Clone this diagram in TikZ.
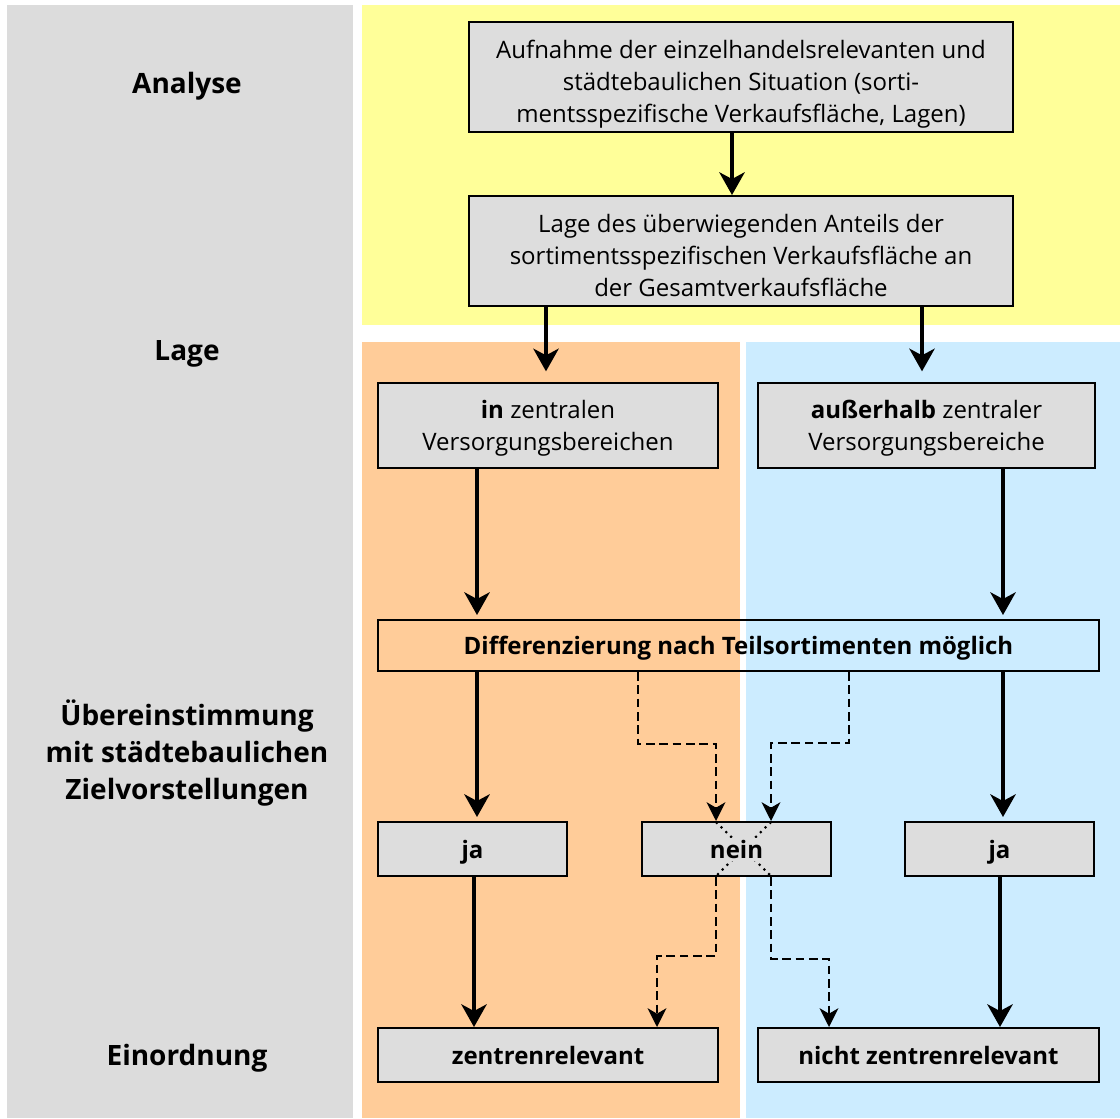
\documentclass[tikz,border=0pt]{standalone}
\usepackage{fontspec}
\setmainfont{Open Sans}
\usepackage{xcolor}
\usepackage{tikz}
\usetikzlibrary{arrows.meta,shadows}
\definecolor{panelgray}{HTML}{DCDCDC}
\definecolor{paleyellow}{HTML}{FFFF99}
\definecolor{paleorange}{HTML}{FFCC99}
\definecolor{paleblue}{HTML}{CCECFF}
\definecolor{boxgray}{HTML}{DDDDDD}
\setlength{\fboxsep}{1.5pt}

\begin{document}
\begin{tikzpicture}[x=0.75pt,y=-0.75pt,>={Stealth[length=17pt,width=19pt,inset=5pt]},
  flow/.style={->,line width=2.8pt},
  alt/.style={-{Stealth[length=14pt,width=14pt,inset=4pt]},line width=2pt,dash pattern=on 6.5pt off 3.5pt},
  cross/.style={line width=1.6pt,dash pattern=on 1.6pt off 3.4pt},
  stepbox/.style={draw,line width=1.5pt,inner sep=2pt,align=center,font=\fontsize{18}{24}\selectfont,
    text height=18pt,text depth=4pt},
  twolines/.style={text height=42pt},
  threelines/.style={text height=72pt},
  greybox/.style={stepbox,fill=boxgray,drop shadow={shadow xshift=1pt,shadow yshift=-1pt,fill=black,opacity=0.8}},
  boldbox/.style={greybox,font=\fontsize{18}{24}\selectfont\bfseries},
  phase/.style={align=center,font=\fontsize{21}{28}\selectfont\bfseries}]
  \useasboundingbox (0,0) rectangle (1120,1118);
  \fill[panelgray] (7,5) rectangle (353,1118);
  \fill[paleyellow] (362,5) rectangle (1120,325);
  \fill[paleorange] (362,342) rectangle (740,1118);
  \fill[paleblue] (746,342) rectangle (1120,1118);

  \node[phase] (analyse) at (187,86) {Analyse};
  \node[phase] (lage) at (187,354) {Lage};
  \node[phase] (match) at (187,753) {Übereinstimmung\\mit städtebaulichen\\Zielvorstellungen};
  \node[phase] (order) at (187,1058) {Einordnung};

  \node[greybox,threelines,minimum width=408pt,minimum height=82.5pt] (survey) at (741,77)
    {Aufnahme der einzelhandelsrelevanten und\\städtebaulichen Situation (sorti-\\mentsspezifische Verkaufsfläche, Lagen)};
  \node[greybox,threelines,minimum width=408pt,minimum height=82.5pt] (share) at (741,251)
    {Lage des überwiegenden Anteils der\\sortimentsspezifischen Verkaufsfläche an\\der Gesamtverkaufsfläche};
  \node[greybox,twolines,minimum width=255pt,minimum height=63.75pt] (inside) at (548,425.5)
    {\textbf{in} zentralen\\Versorgungsbereichen};
  \node[greybox,twolines,minimum width=252.75pt,minimum height=63.75pt] (outside) at (926.5,425.5)
    {\textbf{außerhalb} zentraler\\Versorgungsbereiche};
  \node[stepbox,font=\fontsize{18}{24}\selectfont\bfseries,minimum width=540.75pt,minimum height=38.25pt] (split) at (738.5,645.5)
    {Differenzierung nach Teilsortimenten möglich};
  \node[boldbox,minimum width=141.75pt,minimum height=40.5pt] (yesin) at (472.5,849) {ja};
  \node[boldbox,minimum width=141.75pt,minimum height=40.5pt,
    path picture={
      \draw[cross] ([xshift=-15.4pt]path picture bounding box.north) -- ([xshift=25.9pt]path picture bounding box.south);
      \draw[cross] ([xshift=25.9pt]path picture bounding box.north) -- ([xshift=-15.4pt]path picture bounding box.south);}]
    (no) at (736.5,849) {\colorbox{boxgray}{nein}};
  \node[boldbox,minimum width=141.75pt,minimum height=40.5pt] (yesout) at (999.5,849) {ja};
  \node[boldbox,minimum width=255pt,minimum height=40.5pt] (central) at (548,1055) {zentrenrelevant};
  \node[boldbox,minimum width=255.75pt,minimum height=40.5pt] (noncentral) at (928.5,1055) {nicht zentrenrelevant};

  \draw[flow] (survey.south -| 732,0) -- (share.north -| 732,0);
  \draw[flow,shorten >=8pt] (share.south -| 546,0) -- (inside.north -| 546,0);
  \draw[flow,shorten >=8pt] (share.south -| 922,0) -- (outside.north -| 922,0);
  \draw[flow,shorten >=3pt] (inside.south -| 477,0) -- (split.north -| 477,0);
  \draw[flow,shorten >=3pt] (outside.south -| 1003,0) -- (split.north -| 1003,0);
  \draw[flow,shorten >=3pt] (split.south -| 477,0) -- (yesin.north -| 477,0);
  \draw[flow,shorten >=3pt] (split.south -| 1003,0) -- (yesout.north -| 1003,0);
  \draw[flow] (yesin.south -| 474,0) -- (central.north -| 474,0);
  \draw[flow] (yesout.south -| 1000,0) -- (noncentral.north -| 1000,0);
  \draw[alt] (split.south -| 638,0) -- (638,744) -| (no.north -| 716,0);
  \draw[alt] (split.south -| 849,0) -- (849,743) -| (no.north -| 771,0);
  \draw[alt] (no.south -| 716,0) -- (716,956) -| (central.north -| 657,0);
  \draw[alt] (no.south -| 771,0) -- (771,959) -| (noncentral.north -| 829,0);
\end{tikzpicture}
\end{document}
